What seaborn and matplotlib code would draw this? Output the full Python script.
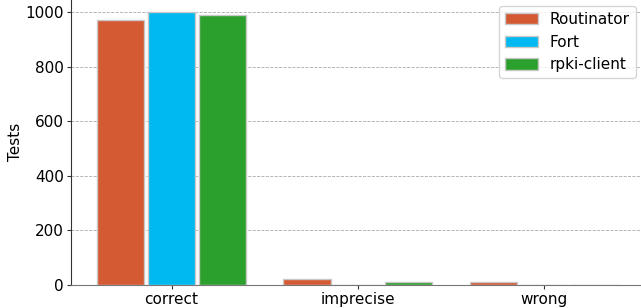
import matplotlib
matplotlib.use("Agg")
import matplotlib.pyplot as plt
import seaborn as sns
import pandas as pd

categories = ["correct", "imprecise", "wrong"]
validators = ["Routinator", "Fort", "rpki-client"]
routinator = [970, 20, 9]
fort = [1001, 0, 0]
rpki_client = [991, 10, 0]
colors = ["#d45a33", "#00b9f1", "#2ca02c"]

rows = []
for name, vals in zip(validators, [routinator, fort, rpki_client]):
    for c, v in zip(categories, vals):
        rows.append({"category": c, "validator": name, "Tests": v})
df = pd.DataFrame(rows)

sns.set_style("white")
plt.rcParams['font.family'] = ['DejaVu Sans']
plt.rcParams['text.color'] = 'black'
plt.rcParams['axes.labelcolor'] = 'black'
plt.rcParams['xtick.color'] = 'black'
plt.rcParams['ytick.color'] = 'black'

fig = plt.figure(figsize=(6.41, 3.08), dpi=100)
ax = fig.add_axes([71/641, 1 - 284.7/308, 1 - 71/641, 284.7/308])
sns.barplot(data=df, x="category", y="Tests", hue="validator", order=categories,
            hue_order=validators, palette=colors, saturation=1, width=0.82, gap=0.07,
            edgecolor="#c8c8c8", linewidth=1, ax=ax, zorder=3)
ax.set_axisbelow(True)
ax.yaxis.grid(True, linestyle="--", color="#aaaaaa", linewidth=0.6)
ax.set_ylim(0, 1045)
ax.set_xlim(-0.54, 2.52)
ax.set_yticks([0, 200, 400, 600, 800, 1000])
ax.set_xlabel("")
ax.set_ylabel("Tests", fontsize=11, labelpad=2, color="black")
ax.tick_params(axis="both", labelsize=11, length=3, pad=2, color="#333333",
               labelcolor="black", bottom=True, left=True)
for s in ["top", "right"]:
    ax.spines[s].set_visible(False)
ax.spines["left"].set_color("#333333")
ax.spines["bottom"].set_color("#777777")
leg = ax.legend(loc="upper right", fontsize=11, frameon=True, handlelength=2.1,
                handleheight=0.75, handletextpad=0.8, labelspacing=0.5,
                borderaxespad=0, bbox_to_anchor=(0.991, 0.979))
leg.set_title(None)
for t in leg.get_texts():
    t.set_color("black")
fig.savefig("out.png", dpi=100)
